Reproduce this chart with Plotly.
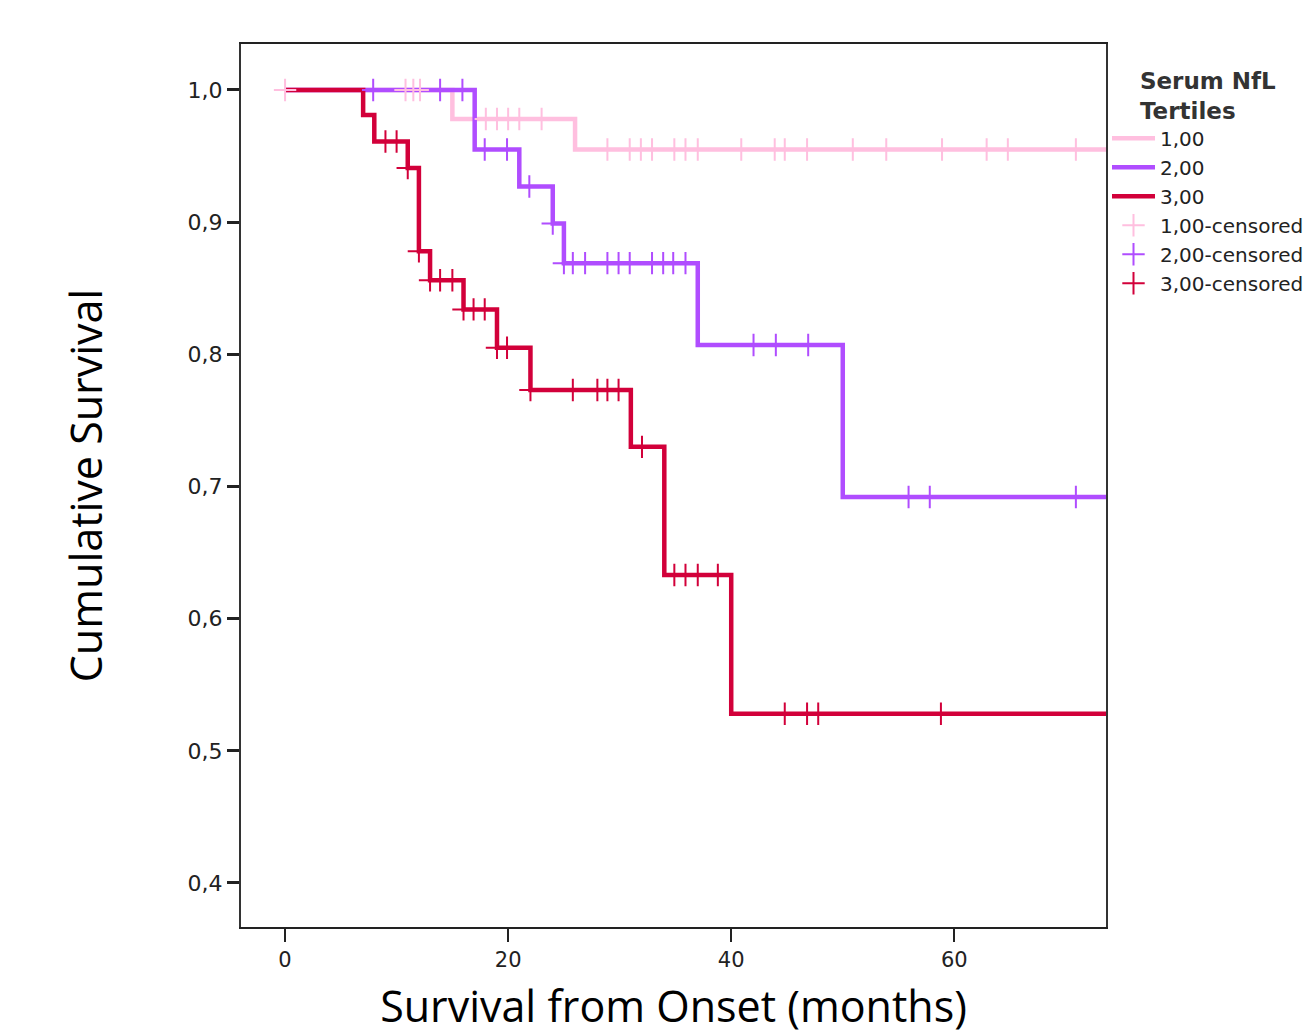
import numpy as np
import plotly.graph_objects as go

# ---- Kaplan-Meier data (months, cumulative survival) ----
group_names = ["1,00", "2,00", "3,00"]

t1_steps = [0, 15, 26, 75]
s1_steps = [1.0, 0.978, 0.955, 0.955]
t1_cens = [0, 10.8, 11.5, 12.1, 18, 19, 20, 21, 23, 28.9, 30.9, 31.9, 32.9, 34.9,
           35.9, 37.0, 40.9, 43.9, 44.8, 46.8, 50.9, 53.9, 58.9, 62.9, 64.8, 70.9]

t2_steps = [0, 17, 21, 24, 25, 37, 50, 75]
s2_steps = [1.0, 0.955, 0.927, 0.899, 0.869, 0.807, 0.692, 0.692]
t2_cens = [7.9, 13.9, 15.9, 17.9, 19.9, 21.9, 24, 25, 25.8, 26.9, 28.9, 29.9, 30.9,
           32.9, 33.9, 34.8, 35.9, 42, 44, 46.9, 55.9, 57.8, 70.9]

t3_steps = [0, 7, 8, 11, 12, 13, 16, 19, 22, 31, 34, 40, 75]
s3_steps = [1.0, 0.981, 0.961, 0.941, 0.878, 0.856, 0.834, 0.805, 0.773, 0.730,
            0.633, 0.528, 0.528]
t3_cens = [9, 10, 11, 12, 13, 13.9, 15, 16, 16.9, 17.9, 19, 19.9, 22, 25.8, 28, 28.9,
           29.9, 32, 34.9, 35.9, 37, 38.8, 44.8, 46.8, 47.8, 58.8]

x_ticks = [0, 20, 40, 60]
y_ticks = [0.4, 0.5, 0.6, 0.7, 0.8, 0.9, 1.0]
y_ticklabels = ["0,4", "0,5", "0,6", "0,7", "0,8", "0,9", "1,0"]

colors = ["#FFBFDF", "#B04DFF", "#D2003A"]

steps = [(t1_steps, s1_steps), (t2_steps, s2_steps), (t3_steps, s3_steps)]
cens = [t1_cens, t2_cens, t3_cens]


def level_at(ts, ss, t):
    idx = np.searchsorted(np.array(ts), np.array(t), side="right") - 1
    return [ss[i] for i in idx]


fig = go.Figure()

for (ts, ss), name, col in zip(steps, group_names, colors):
    fig.add_trace(go.Scatter(
        x=ts, y=ss, mode="lines", name=name,
        line=dict(color=col, width=4.5, shape="hv"),
    ))

for (ts, ss), ct, name, col in zip(steps, cens, group_names, colors):
    fig.add_trace(go.Scatter(
        x=ct, y=level_at(ts, ss, ct), mode="markers", name=name + "-censored",
        marker=dict(symbol="cross-thin", size=16, color=col,
                    line=dict(color=col, width=2)),
    ))

W, H = 1315, 1035
fig.update_layout(
    width=W, height=H,
    margin=dict(l=241, r=209, t=44, b=108, autoexpand=False),
    paper_bgcolor="white", plot_bgcolor="white",
    font=dict(family="DejaVu Sans", color="#222"),
    showlegend=True,
    legend=dict(
        xref="container", x=1107 / W, xanchor="left",
        yref="paper", y=0.983, yanchor="top",
        bgcolor="rgba(0,0,0,0)",
        font=dict(family="DejaVu Sans", size=20, color="#222"),
        title=dict(text="<b>Serum NfL</b><br><b>Tertiles</b>", side="top center",
                   font=dict(family="DejaVu Sans", size=23, color="#333")),
        itemwidth=43, tracegroupgap=0,
    ),
    xaxis=dict(
        range=[-3.95, 73.6], tickvals=x_ticks, ticktext=[str(v) for v in x_ticks],
        ticks="outside", ticklen=13, tickwidth=2, tickcolor="#222",
        showline=True, linecolor="#222", linewidth=2, mirror=True,
        showgrid=False, zeroline=False, automargin=False,
        tickfont=dict(family="DejaVu Sans", size=21, color="#222"),
        title=dict(text="Survival from Onset (months)", standoff=37,
                   font=dict(family="Open Sans", size=43, color="#000")),
    ),
    yaxis=dict(
        range=[0.3667, 1.0348], tickvals=y_ticks, ticktext=y_ticklabels,
        ticks="outside", ticklen=12, tickwidth=2.5, tickcolor="#222",
        showline=True, linecolor="#333", linewidth=2, mirror=True,
        showgrid=False, zeroline=False, automargin=False,
        tickfont=dict(family="DejaVu Sans", size=22, color="#222"),
        title=dict(text="Cumulative Survival", standoff=72,
                   font=dict(family="Open Sans", size=43, color="#000")),
    ),
)

fig.write_html("out.html")
